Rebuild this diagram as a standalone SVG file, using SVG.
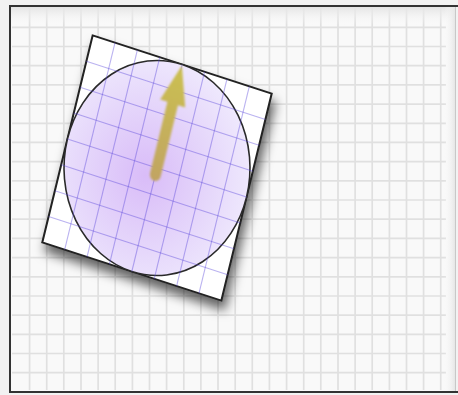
<svg xmlns="http://www.w3.org/2000/svg" width="458" height="395" viewBox="0 0 458 395">
  <defs>
    <linearGradient id="topBand" x1="0" y1="0" x2="0" y2="1">
      <stop offset="0" stop-color="#e4e4e4"/>
      <stop offset="1" stop-color="#f9f9f9" stop-opacity="0"/>
    </linearGradient>
    <linearGradient id="rightBand" x1="0" y1="0" x2="1" y2="0">
      <stop offset="0" stop-color="#f9f9f9" stop-opacity="0"/>
      <stop offset="1" stop-color="#e6e6e6"/>
    </linearGradient>
    <radialGradient id="discFill" cx="0.45" cy="0.55" r="0.6">
      <stop offset="0" stop-color="#d9bcf8"/>
      <stop offset="0.6" stop-color="#e6d8fb"/>
      <stop offset="1" stop-color="#f0ebfd"/>
    </radialGradient>
    <linearGradient id="arrowFill" x1="0" y1="1" x2="0" y2="0">
      <stop offset="0" stop-color="#c1a463"/>
      <stop offset="1" stop-color="#cbc050"/>
    </linearGradient>
    <filter id="shadow" x="-20%" y="-20%" width="140%" height="150%">
      <feDropShadow dx="3" dy="9" stdDeviation="5.5" flood-color="#000" flood-opacity="0.6"/>
    </filter>
    <filter id="soft" x="-20%" y="-20%" width="140%" height="140%">
      <feGaussianBlur stdDeviation="0.9"/>
    </filter>
    <style>
      .bg-grid line { stroke: #e0e0e0; stroke-width: 1.7; }
      .card-grid line { stroke: #5a48dc; stroke-opacity: 0.42; stroke-width: 1.1; vector-effect: non-scaling-stroke; }
      .edge { vector-effect: non-scaling-stroke; }
    </style>
  </defs>

  <g id="background">
    <rect x="0" y="0" width="458" height="395" fill="#f2f2f2"/>
    <rect x="10" y="6" width="446" height="386" fill="#f9f9f9"/>
    <g class="bg-grid">
      <line x1="29.6" y1="8" x2="29.6" y2="390"/>
      <line x1="46.7" y1="8" x2="46.7" y2="390"/>
      <line x1="63.8" y1="8" x2="63.8" y2="390"/>
      <line x1="81" y1="8" x2="81" y2="390"/>
      <line x1="98.1" y1="8" x2="98.1" y2="390"/>
      <line x1="115.2" y1="8" x2="115.2" y2="390"/>
      <line x1="132.4" y1="8" x2="132.4" y2="390"/>
      <line x1="149.5" y1="8" x2="149.5" y2="390"/>
      <line x1="166.6" y1="8" x2="166.6" y2="390"/>
      <line x1="183.8" y1="8" x2="183.8" y2="390"/>
      <line x1="200.9" y1="8" x2="200.9" y2="390"/>
      <line x1="218" y1="8" x2="218" y2="390"/>
      <line x1="235.2" y1="8" x2="235.2" y2="390"/>
      <line x1="252.3" y1="8" x2="252.3" y2="390"/>
      <line x1="269.4" y1="8" x2="269.4" y2="390"/>
      <line x1="286.6" y1="8" x2="286.6" y2="390"/>
      <line x1="303.7" y1="8" x2="303.7" y2="390"/>
      <line x1="320.8" y1="8" x2="320.8" y2="390"/>
      <line x1="338" y1="8" x2="338" y2="390"/>
      <line x1="355.1" y1="8" x2="355.1" y2="390"/>
      <line x1="372.2" y1="8" x2="372.2" y2="390"/>
      <line x1="389.4" y1="8" x2="389.4" y2="390"/>
      <line x1="406.5" y1="8" x2="406.5" y2="390"/>
      <line x1="423.6" y1="8" x2="423.6" y2="390"/>
      <line x1="440.7" y1="8" x2="440.7" y2="390"/>
      <line x1="12" y1="27.3" x2="446" y2="27.3"/>
      <line x1="12" y1="46.5" x2="446" y2="46.5"/>
      <line x1="12" y1="65.7" x2="446" y2="65.7"/>
      <line x1="12" y1="84.9" x2="446" y2="84.9"/>
      <line x1="12" y1="104.1" x2="446" y2="104.1"/>
      <line x1="12" y1="123.3" x2="446" y2="123.3"/>
      <line x1="12" y1="142.4" x2="446" y2="142.4"/>
      <line x1="12" y1="161.6" x2="446" y2="161.6"/>
      <line x1="12" y1="180.8" x2="446" y2="180.8"/>
      <line x1="12" y1="200" x2="446" y2="200"/>
      <line x1="12" y1="219.2" x2="446" y2="219.2"/>
      <line x1="12" y1="238.4" x2="446" y2="238.4"/>
      <line x1="12" y1="257.6" x2="446" y2="257.6"/>
      <line x1="12" y1="276.8" x2="446" y2="276.8"/>
      <line x1="12" y1="296" x2="446" y2="296"/>
      <line x1="12" y1="315.2" x2="446" y2="315.2"/>
      <line x1="12" y1="334.4" x2="446" y2="334.4"/>
      <line x1="12" y1="353.5" x2="446" y2="353.5"/>
      <line x1="12" y1="372.7" x2="446" y2="372.7"/>
    </g>
    <rect x="11" y="7" width="444" height="18" fill="url(#topBand)"/>
    <rect x="444" y="7" width="11" height="384" fill="url(#rightBand)"/>
    <path d="M10,392 L10,6 L458,6" fill="none" stroke="#333" stroke-width="2"/>
    <line x1="9" y1="392" x2="458" y2="392" stroke="#333" stroke-width="2"/>
    <line x1="455.5" y1="7" x2="455.5" y2="391" stroke="#c8c8c8" stroke-width="1"/>
  </g>

  <g id="card" filter="url(#shadow)">
    <g transform="translate(157,168) scale(1,1.156) rotate(15.7)">
      <rect class="edge" x="-93" y="-93" width="186" height="186" fill="#ffffff" stroke="#222" stroke-width="2"/>
      <circle class="edge" cx="0" cy="0" r="93" fill="url(#discFill)" stroke="#2a2a2a" stroke-width="1.6"/>
      <g class="card-grid">
        <line x1="-69.75" y1="-93" x2="-69.75" y2="93"/>
        <line x1="-46.5" y1="-93" x2="-46.5" y2="93"/>
        <line x1="-23.25" y1="-93" x2="-23.25" y2="93"/>
        <line x1="0" y1="-93" x2="0" y2="93"/>
        <line x1="23.25" y1="-93" x2="23.25" y2="93"/>
        <line x1="46.5" y1="-93" x2="46.5" y2="93"/>
        <line x1="69.75" y1="-93" x2="69.75" y2="93"/>
        <line x1="-93" y1="-69.75" x2="93" y2="-69.75"/>
        <line x1="-93" y1="-46.5" x2="93" y2="-46.5"/>
        <line x1="-93" y1="-23.25" x2="93" y2="-23.25"/>
        <line x1="-93" y1="0" x2="93" y2="0"/>
        <line x1="-93" y1="23.25" x2="93" y2="23.25"/>
        <line x1="-93" y1="46.5" x2="93" y2="46.5"/>
        <line x1="-93" y1="69.75" x2="93" y2="69.75"/>
      </g>
    </g>
  </g>

  <g id="arrow" filter="url(#soft)">
    <g transform="translate(157,168) scale(1,1.156) rotate(15.7)">
      <path d="M-5.5,6 L-5.5,-58 L-13,-58 L0,-92 L13,-58 L5.5,-58 L5.5,6 A5.5,5.5 0 0 1 -5.5,6 Z" fill="url(#arrowFill)"/>
    </g>
  </g>
</svg>
